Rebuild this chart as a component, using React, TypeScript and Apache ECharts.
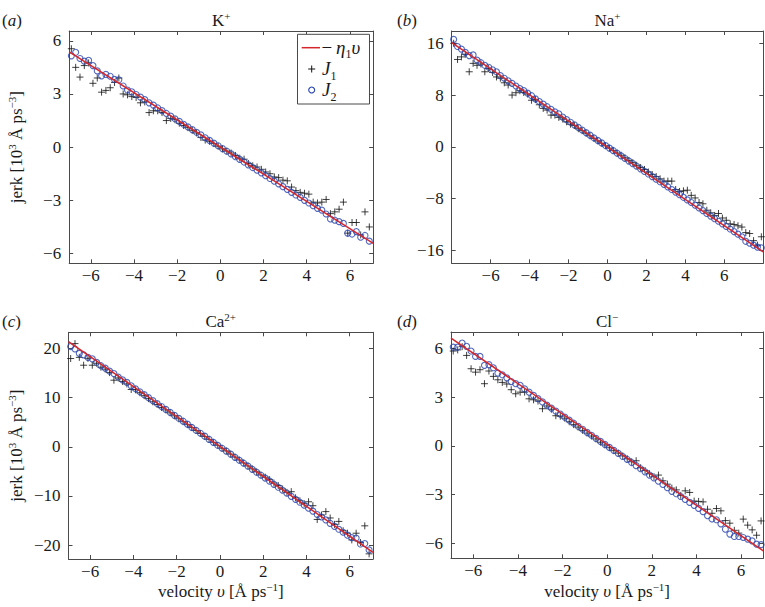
import React, { useEffect, useRef } from "react";
import * as echarts from "echarts";

// velocity grids
const V7 = [-6.9,-6.7,-6.5,-6.3,-6.1,-5.9,-5.7,-5.5,-5.3,-5.1,-4.9,-4.7,-4.5,-4.3,-4.1,-3.9,-3.7,-3.5,-3.3,-3.1,-2.9,-2.7,-2.5,-2.3,-2.1,-1.9,-1.7,-1.5,-1.3,-1.1,-0.9,-0.7,-0.5,-0.3,-0.1,0.1,0.3,0.5,0.7,0.9,1.1,1.3,1.5,1.7,1.9,2.1,2.3,2.5,2.7,2.9,3.1,3.3,3.5,3.7,3.9,4.1,4.3,4.5,4.7,4.9,5.1,5.3,5.5,5.7,5.9,6.1,6.3,6.5,6.7,6.9];
const V8 = [-7.9,-7.7,-7.5,-7.3,-7.1,-6.9,-6.7,-6.5,-6.3,-6.1,-5.9,-5.7,-5.5,-5.3,-5.1,-4.9,-4.7,-4.5,-4.3,-4.1,-3.9,-3.7,-3.5,-3.3,-3.1,-2.9,-2.7,-2.5,-2.3,-2.1,-1.9,-1.7,-1.5,-1.3,-1.1,-0.9,-0.7,-0.5,-0.3,-0.1,0.1,0.3,0.5,0.7,0.9,1.1,1.3,1.5,1.7,1.9,2.1,2.3,2.5,2.7,2.9,3.1,3.3,3.5,3.7,3.9,4.1,4.3,4.5,4.7,4.9,5.1,5.3,5.5,5.7,5.9,6.1,6.3,6.5,6.7,6.9,7.1,7.3,7.5,7.7,7.9];

// K+
const K_J1 = [5.55,4.5,3.95,4.6,4.75,3.6,3.9,3.1,3.2,3.35,
3.65,3.9,3.0,2.95,2.85,2.8,2.5,2.55,1.95,2.05,
2.05,1.95,1.5,1.62,1.55,1.35,1.22,1.1,0.95,0.8,
0.55,0.4,0.33,0.2,0.05,-0.1,-0.22,-0.33,-0.47,-0.62,
-0.68,-0.92,-1.05,-1.12,-1.25,-1.4,-1.5,-1.68,-1.72,-1.86,
-1.9,-2.25,-2.45,-2.55,-2.6,-2.65,-3.1,-3.15,-3.1,-2.95,
-3.75,-3.65,-3.5,-3.1,-4.85,-4.25,-4.25,-4.95,-3.65,-4.5];
const K_J2 = [5.15,5.35,5.0,4.85,4.9,4.6,4.3,4.02,4.1,4.0,
3.82,3.8,3.45,3.22,3.12,2.97,2.82,2.68,2.5,2.37,
2.21,2.06,1.9,1.75,1.6,1.45,1.29,1.14,0.99,0.84,
0.69,0.53,0.38,0.23,0.08,-0.08,-0.23,-0.38,-0.54,-0.69,
-0.84,-1.0,-1.15,-1.3,-1.45,-1.61,-1.77,-1.92,-2.07,-2.23,
-2.38,-2.55,-2.7,-2.83,-3.0,-3.15,-3.3,-3.45,-3.55,-3.77,
-4.05,-4.12,-4.2,-4.3,-4.85,-4.9,-4.76,-5.08,-4.98,-5.3];
const K_LINE = [[-7, 5.37], [7.08, -5.42]];

// Na+
const NA_J1 = [16.0,13.5,13.9,14.3,11.6,12.9,12.6,12.8,11.6,12.1,
11.5,10.8,10.6,9.9,9.55,8.0,8.36,8.67,8.4,8.15,
7.2,7.3,6.5,5.94,5.68,4.9,4.9,4.55,4.3,3.87,
3.5,3.3,2.8,2.5,2.1,1.7,1.3,0.9,0.55,0.15,
-0.2,-0.55,-0.95,-1.3,-1.7,-2.1,-2.45,-2.85,-3.2,-3.5,
-3.9,-4.3,-4.6,-4.95,-5.3,-5.3,-5.3,-6.6,-6.9,-6.8,
-6.7,-7.5,-7.9,-8.6,-8.8,-9.8,-10.2,-10.6,-10.3,-11.0,
-11.35,-11.9,-12.0,-12.2,-12.4,-13.25,-13.4,-14.5,-15.2,-13.9];
const NA_J2 = [16.6,15.5,15.1,14.6,14.1,14.2,13.4,13.0,12.6,12.3,
11.9,11.6,11.0,10.6,10.2,9.8,9.4,9.0,8.7,8.3,
7.9,7.4,7.0,6.6,6.2,5.8,5.4,5.1,4.6,4.2,
3.8,3.4,3.0,2.6,2.2,1.8,1.4,1.0,0.6,0.2,
-0.2,-0.6,-1.0,-1.4,-1.8,-2.2,-2.6,-3.0,-3.4,-3.8,
-4.2,-4.6,-5.0,-5.4,-5.8,-6.2,-6.6,-7.0,-7.4,-7.8,
-8.2,-8.6,-9.0,-9.45,-9.85,-10.3,-10.7,-11.1,-11.5,-11.9,
-12.3,-12.7,-13.1,-13.5,-13.9,-14.6,-14.9,-15.2,-15.5,-15.6];
const NA_LINE = [[-8, 16.1], [8, -16.25]];

// Ca2+
const CA_J1 = [17.96,21.0,18.2,16.6,18.0,16.6,17.0,16.2,15.8,15.1,
13.55,14.0,13.3,12.8,11.66,11.6,11.0,10.4,9.8,9.15,
8.6,8.0,7.5,6.9,6.3,5.7,5.1,4.5,3.9,3.3,
2.7,2.1,1.5,0.9,0.3,-0.3,-0.85,-1.5,-2.1,-2.7,
-3.3,-3.9,-4.5,-5.1,-5.75,-6.2,-6.7,-7.4,-7.9,-8.6,
-9.3,-9.15,-10.4,-11.0,-11.6,-11.2,-12.0,-14.8,-13.9,-13.2,
-14.5,-15.8,-15.2,-17.1,-17.6,-18.96,-17.6,-19.5,-16.1,-21.8];
const CA_J2 = [20.4,19.9,19.0,18.7,18.2,17.9,17.2,16.5,16.0,15.4,
14.9,14.2,13.6,13.1,12.4,11.8,11.2,10.6,10.0,9.4,
8.8,8.2,7.6,7.0,6.4,5.8,5.2,4.6,3.95,3.35,
2.75,2.15,1.5,0.9,0.3,-0.3,-0.9,-1.5,-2.15,-2.75,
-3.35,-3.95,-4.6,-5.2,-5.8,-6.4,-7.0,-7.65,-8.25,-8.85,
-9.45,-10.1,-10.7,-11.3,-11.9,-12.5,-13.1,-13.8,-14.3,-14.9,
-15.6,-16.2,-16.8,-17.4,-18.0,-18.5,-18.6,-19.8,-19.7,-21.0];
const CA_LINE = [[-7, 21.4], [7.08, -21.5]];

// Cl-
const CL_J1 = [5.83,5.9,6.1,5.56,4.74,4.53,4.68,3.82,4.6,4.27,
4.06,3.9,3.8,3.45,3.2,3.3,3.3,2.89,2.83,2.75,
2.28,2.45,2.25,1.85,1.82,1.7,1.48,1.3,1.15,0.95,
0.78,0.6,0.42,0.22,0.05,-0.12,-0.3,-0.45,-0.62,-0.8,
-0.98,-0.92,-1.35,-1.52,-1.72,-1.9,-1.8,-2.15,-2.36,-2.6,
-2.71,-3.05,-2.77,-2.87,-3.4,-3.42,-3.45,-3.9,-4.15,-3.86,
-4.0,-4.6,-4.76,-5.2,-5.37,-4.51,-4.88,-5.17,-5.5,-4.62];
const CL_J2 = [6.07,6.07,6.32,6.12,5.83,5.5,5.5,4.95,4.99,4.8,
4.47,4.37,4.18,3.95,3.82,3.72,3.5,3.3,3.1,2.9,
2.7,2.5,2.32,2.13,1.95,1.76,1.58,1.39,1.2,1.02,
0.83,0.65,0.46,0.27,0.09,-0.1,-0.28,-0.47,-0.66,-0.84,
-1.03,-1.22,-1.41,-1.6,-1.8,-1.98,-2.18,-2.38,-2.58,-2.8,
-2.95,-3.12,-3.3,-3.48,-3.66,-3.85,-4.05,-4.3,-4.5,-4.55,
-4.8,-5.13,-5.43,-5.58,-5.58,-5.64,-5.74,-5.85,-6.05,-6.08];
const CL_LINE = [[-7, 6.63], [7, -6.46]];

// tick labels
const XT = [-6, -4, -2, 0, 2, 4, 6];
const YT_K = [-6, -3, 0, 3, 6];
const YT_NA = [-16, -8, 0, 8, 16];
const YT_CA = [-20, -10, 0, 10, 20];
const YT_CL = [-6, -3, 0, 3, 6];

const TITLES = ["K", "Na", "Ca", "Cl"];
const TITLE_SUP = ["+", "+", "2+", "\u2212"];
const TAGS = ["a", "b", "c", "d"];

const FONT = "Liberation Serif";
const INK = "#1a1a1a";
const FRAME = "#4a4a4a";
const RED = "#d7262b";
const BLUE = "#2945ad";
const PLUS = "path://M0,5L10,5M5,0L5,10";

const fmt = (v: number) => (v < 0 ? "\u2212" + Math.abs(v) : String(v));

const PANELS = [
  { grid: { left: 69.2, top: 31, width: 304, height: 232.3 }, x: [-7, 7.08], y: [-6.55, 6.55], yt: YT_K, v: V7, j1: K_J1, j2: K_J2, line: K_LINE },
  { grid: { left: 451.7, top: 31, width: 311.6, height: 232.3 }, x: [-8, 8], y: [-18, 17.9], yt: YT_NA, v: V8, j1: NA_J1, j2: NA_J2, line: NA_LINE },
  { grid: { left: 68.5, top: 332.3, width: 304.5, height: 226.7 }, x: [-7, 7.08], y: [-22.85, 23.3], yt: YT_CA, v: V7, j1: CA_J1, j2: CA_J2, line: CA_LINE },
  { grid: { left: 451, top: 332, width: 312.3, height: 226.3 }, x: [-7, 7], y: [-6.92, 7.0], yt: YT_CL, v: V7, j1: CL_J1, j2: CL_J2, line: CL_LINE },
];

const baseRich = {
  b: { fontSize: 17, fontFamily: FONT, lineHeight: 20, color: INK },
  i: { fontSize: 17, fontFamily: FONT, fontStyle: "italic", lineHeight: 20, color: INK },
  p: { fontSize: 11, fontFamily: FONT, verticalAlign: "top", color: INK },
};
const legRich = {
  m: { fontSize: 19, fontFamily: FONT, lineHeight: 26, color: INK },
  i: { fontSize: 19, fontFamily: FONT, fontStyle: "italic", lineHeight: 26, color: INK },
  s: { fontSize: 12, fontFamily: FONT, verticalAlign: "bottom", color: INK },
};

function txt(x: number, y: number, text: string, align: string, rich: any, rotation = 0) {
  return {
    type: "text",
    x,
    y,
    rotation,
    z: 100,
    style: {
      text,
      rich,
      fontSize: 17,
      fontFamily: FONT,
      fill: INK,
      align,
      verticalAlign: "middle",
      textAlign: align,
      textVerticalAlign: "middle",
    },
  };
}

function buildOption() {
  const grids: any[] = [];
  const xAxes: any[] = [];
  const yAxes: any[] = [];
  const series: any[] = [];
  const graphics: any[] = [];

  PANELS.forEach((p, i) => {
    grids.push({ ...p.grid, containLabel: false, outerBoundsMode: "none" });
    const axLine = { show: true, onZero: false, lineStyle: { color: FRAME, width: 1 } };
    const labelStyle = { color: INK, fontSize: 17, fontFamily: FONT, fontWeight: "normal", formatter: fmt };
    xAxes.push({
      type: "value", gridIndex: i, position: "bottom", min: p.x[0], max: p.x[1],
      axisLine: axLine,
      axisTick: { show: true, inside: true, length: 4, customValues: XT, lineStyle: { color: FRAME } },
      axisLabel: { show: true, customValues: XT, margin: 4, ...labelStyle },
      splitLine: { show: false },
    });
    xAxes.push({
      type: "value", gridIndex: i, position: "top", min: p.x[0], max: p.x[1],
      axisLine: axLine,
      axisTick: { show: true, inside: true, length: 4, customValues: XT, lineStyle: { color: FRAME } },
      axisLabel: { show: false },
      splitLine: { show: false },
    });
    yAxes.push({
      type: "value", gridIndex: i, position: "left", min: p.y[0], max: p.y[1],
      axisLine: axLine,
      axisTick: { show: true, inside: true, length: 4, customValues: p.yt, lineStyle: { color: FRAME } },
      axisLabel: { show: true, customValues: p.yt, margin: 8, ...labelStyle },
      splitLine: { show: false },
    });
    yAxes.push({
      type: "value", gridIndex: i, position: "right", min: p.y[0], max: p.y[1],
      axisLine: axLine,
      axisTick: { show: true, inside: true, length: 4, customValues: p.yt, lineStyle: { color: FRAME } },
      axisLabel: { show: false },
      splitLine: { show: false },
    });
    series.push({
      type: "scatter", name: "J1", xAxisIndex: 2 * i, yAxisIndex: 2 * i,
      data: p.v.map((x, k) => [x, p.j1[k]]),
      symbol: PLUS, symbolSize: 7, z: 2,
      itemStyle: { color: "rgba(0,0,0,0)", borderColor: "#111", borderWidth: 1 },
      silent: true,
    });
    series.push({
      type: "scatter", name: "J2", xAxisIndex: 2 * i, yAxisIndex: 2 * i,
      data: p.v.map((x, k) => [x, p.j2[k]]),
      symbol: "circle", symbolSize: 6, z: 3,
      itemStyle: { color: "rgba(0,0,0,0)", borderColor: BLUE, borderWidth: 1.1 },
      silent: true,
    });
    series.push({
      type: "line", name: "eta", xAxisIndex: 2 * i, yAxisIndex: 2 * i,
      data: p.line, symbol: "none", showSymbol: false, z: 4,
      lineStyle: { color: RED, width: 1.5 }, silent: true,
    });

    const g = p.grid;
    const cx = g.left + g.width / 2;
    const ty = g.top - 11;
    graphics.push(txt(cx, ty, `{b|${TITLES[i]}}{p|${TITLE_SUP[i]}}`, "center", baseRich));
    const tagX = i % 2 === 0 ? 2 : 397;
    graphics.push(txt(tagX, ty, `{b|(}{i|${TAGS[i]}}{b|)}`, "left", baseRich));
    const cy = g.top + g.height / 2;
    if (i % 2 === 0) {
      graphics.push(txt(16, cy, "{b|jerk [10}{p|3}{b| \u00c5 ps}{p|\u22123}{b|]}", "center", baseRich, Math.PI / 2));
    }
    if (i >= 2) {
      graphics.push(txt(cx, 591, "{b|velocity }{i|\u03c5}{b| [\u00c5 ps}{p|\u22121}{b|]}", "center", baseRich));
    }
  });

  // legend (panel a)
  graphics.push({ type: "rect", z: 90, shape: { x: 297.5, y: 34.3, width: 72, height: 69.7 }, style: { fill: "#fff", stroke: FRAME, lineWidth: 1 } });
  graphics.push({ type: "line", z: 100, shape: { x1: 301.7, y1: 47.7, x2: 320, y2: 47.7 }, style: { stroke: RED, lineWidth: 1.5 } });
  graphics.push(txt(321.5, 47, "{m|\u2212\u2009}{i|\u03b7}{s|1}{i|\u03c5}", "left", legRich));
  graphics.push({ type: "line", z: 100, shape: { x1: 308.2, y1: 69, x2: 315.2, y2: 69 }, style: { stroke: "#111", lineWidth: 1 } });
  graphics.push({ type: "line", z: 100, shape: { x1: 311.7, y1: 65.5, x2: 311.7, y2: 72.5 }, style: { stroke: "#111", lineWidth: 1 } });
  graphics.push(txt(322, 68.5, "{i|J}{s|1}", "left", legRich));
  graphics.push({ type: "circle", z: 100, shape: { cx: 311.7, cy: 90, r: 3 }, style: { fill: "none", stroke: BLUE, lineWidth: 1.1 } });
  graphics.push(txt(322, 89.5, "{i|J}{s|2}", "left", legRich));

  return {
    animation: false,
    backgroundColor: "#fff",
    textStyle: { fontFamily: FONT },
    grid: grids,
    xAxis: xAxes,
    yAxis: yAxes,
    series,
    graphic: { elements: graphics },
  };
}

export default function App() {
  const ref = useRef<HTMLDivElement>(null);
  useEffect(() => {
    if (!ref.current) return;
    const chart = echarts.init(ref.current, null, { renderer: "svg", width: 765, height: 607 });
    chart.setOption(buildOption() as any);
    return () => chart.dispose();
  }, []);
  return (
    <div
      ref={ref}
      style={{ position: "fixed", left: 0, top: 0, width: 765, height: 607, background: "#fff" }}
    />
  );
}
